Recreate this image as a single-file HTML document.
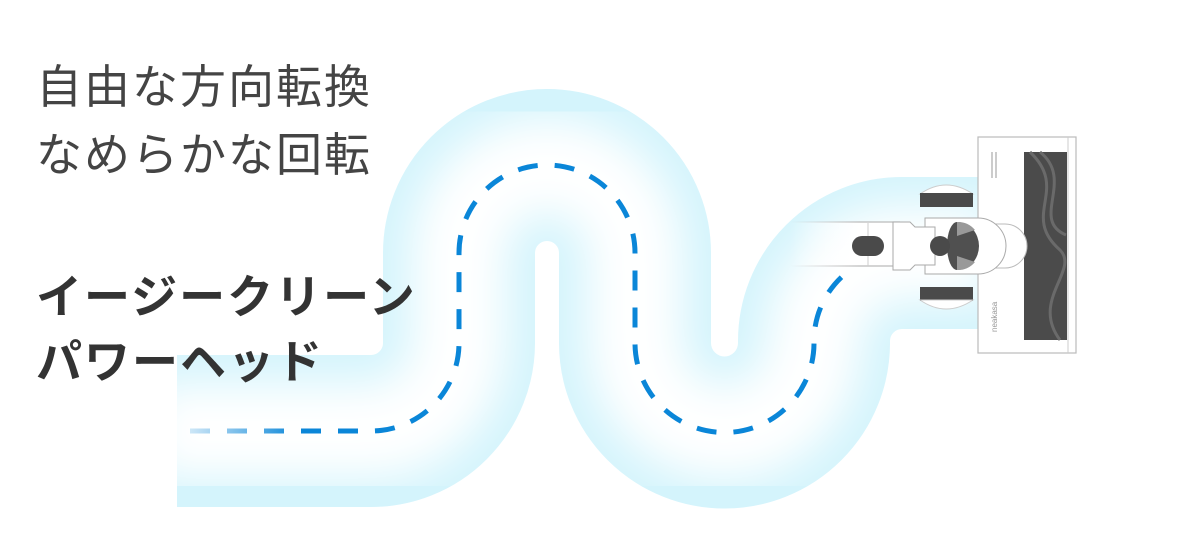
<!DOCTYPE html>
<html><head><meta charset="utf-8"><style>
html,body{margin:0;padding:0;background:#fff;}
body{width:1200px;height:542px;position:relative;overflow:hidden;}
.t{position:absolute;left:36px;font-family:"Liberation Sans","Noto Sans CJK JP",sans-serif;font-size:46px;line-height:46px;letter-spacing:2px;white-space:nowrap;}
.r{color:#444;font-weight:400;}
.b{color:#333;font-weight:700;}
svg{position:absolute;left:0;top:0;}
</style></head><body>
<svg width="1200" height="542" viewBox="0 0 1200 542">
<defs>
<filter id="bl" x="-20%" y="-20%" width="140%" height="140%"><feGaussianBlur stdDeviation="22"/></filter>
<clipPath id="cp"><rect x="177" y="0" width="900" height="542"/></clipPath>
<linearGradient id="dg" gradientUnits="userSpaceOnUse" x1="190" y1="0" x2="300" y2="0">
<stop offset="0" stop-color="#0a86d8" stop-opacity="0.2"/><stop offset="1" stop-color="#0a86d8"/></linearGradient>
<linearGradient id="wg" gradientUnits="userSpaceOnUse" x1="790" y1="0" x2="860" y2="0">
<stop offset="0" stop-color="#fff" stop-opacity="0"/><stop offset="1" stop-color="#fff"/></linearGradient>
<linearGradient id="wl" gradientUnits="userSpaceOnUse" x1="790" y1="0" x2="860" y2="0">
<stop offset="0" stop-color="#bbb" stop-opacity="0"/><stop offset="1" stop-color="#bbb"/></linearGradient>
</defs>
<g clip-path="url(#cp)">
<path d="M150 431 H371 A88 88 0 0 0 459 343 V253 A88 88 0 0 1 635 253 V343 A88 88 0 0 0 814 343 V341 A88 88 0 0 1 902 253 H990" fill="none" stroke="#d4f4fc" stroke-width="152"/>
<path d="M150 431 H371 A88 88 0 0 0 459 343 V253 A88 88 0 0 1 635 253 V343 A88 88 0 0 0 814 343 V341 A88 88 0 0 1 902 253 H990" fill="none" stroke="#fff" stroke-width="95" filter="url(#bl)"/>
</g>
<path d="M190 431 H371 A88 88 0 0 0 459 343 V253 A88 88 0 0 1 635 253 V343 A88 88 0 0 0 814 343 V341 A88 88 0 0 1 850 270" fill="none" stroke="url(#dg)" stroke-width="5" stroke-dasharray="20 17"/>
<!-- wand -->
<rect x="780" y="222" width="120" height="44" fill="url(#wg)"/>
<line x1="780" y1="222" x2="900" y2="222" stroke="url(#wl)" stroke-width="1.2"/>
<line x1="780" y1="266" x2="900" y2="266" stroke="url(#wl)" stroke-width="1.2"/>
<line x1="868" y1="223" x2="868" y2="266" stroke="#ccc"/>
<rect x="852" y="236" width="32" height="20" rx="10" fill="#4a4a4a"/>
<!-- head plate -->
<rect x="978" y="137" width="98" height="216" fill="#fff" stroke="#bbb" stroke-width="1.2"/>
<line x1="1068" y1="137" x2="1068" y2="353" stroke="#ccc"/>
<rect x="1024" y="152" width="43" height="188" fill="#4b4b4b"/>
<path d="M1030 152 C1070 190 1020 215 1060 250 C1080 270 1030 300 1060 340" fill="none" stroke="#6a6a6a" stroke-width="3"/>
<path d="M1040 152 C1075 180 1030 220 1066 235" fill="none" stroke="#6a6a6a" stroke-width="3"/>
<g stroke="#999" stroke-width="1"><line x1="992" y1="152" x2="992" y2="178"/><line x1="996" y1="152" x2="996" y2="178"/></g>
<text x="0" y="0" transform="translate(997 332) rotate(-90)" font-family="Liberation Sans" font-size="8" fill="#999">neakasa</text>
<!-- wheels -->
<path d="M920 194 Q946 176 973 194 Z" fill="#fff" stroke="#ccc"/>
<rect x="920" y="193" width="53" height="14" fill="#4a4a4a"/>
<rect x="920" y="287" width="53" height="14" fill="#4a4a4a"/>
<path d="M920 300 Q946 318 973 300 Z" fill="#fff" stroke="#ccc"/>
<!-- neck -->
<path d="M993 224 H1005 A22 22 0 0 1 1005 268 H993 Z" fill="#fff" stroke="#bbb"/>
<path d="M925 218 H978 A28 28 0 0 1 978 274 H925 Z" fill="#fff" stroke="#aaa"/>
<path d="M957 222 A22 24 0 0 1 957 270 A10 24 0 0 1 957 222 Z" fill="#505050"/>
<path d="M957 222 A22 24 0 0 1 975 230 L957 236 Z" fill="#999"/>
<path d="M957 270 A22 24 0 0 0 975 262 L957 256 Z" fill="#999"/>
<path d="M893 222 H910 L915 227 H935 V265 H915 L910 270 H893 Z" fill="#fff" stroke="#aaa"/>
<circle cx="940" cy="246" r="10" fill="#4a4a4a"/>
</svg>
<div class="t r" style="top:64px">自由な方向転換</div>
<div class="t r" style="top:132px">なめらかな回転</div>
<div class="t b" style="top:274px">イージークリーン</div>
<div class="t b" style="top:339px">パワーヘッド</div>
</body></html>
